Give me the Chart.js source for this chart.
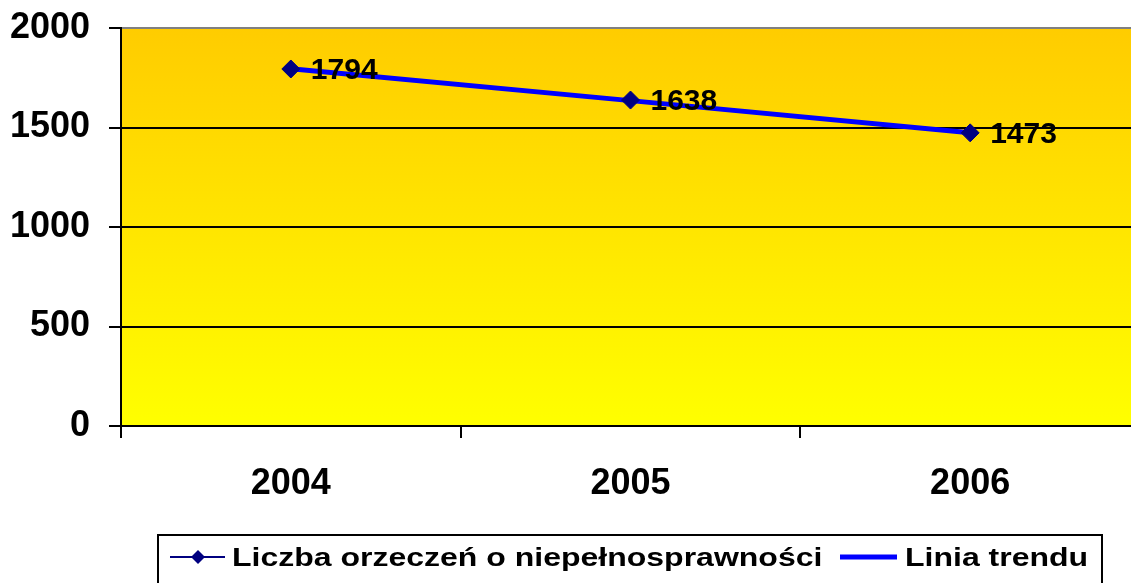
<!DOCTYPE html>
<html>
<head>
<meta charset="utf-8">
<script src="https://cdn.jsdelivr.net/npm/chart.js@4/dist/chart.umd.min.js"></script>
<style>
  body { margin: 0; background: #fff; overflow: hidden; }
  #wrap { width: 1150px; height: 583px; }
</style>
</head>
<body>
<div id="wrap"><canvas id="myChart" width="1150" height="583"></canvas></div>
<script>
// data
var years = ['2004', '2005', '2006'];
var orzeczenia = [1794, 1638, 1473];
var trend = [1795, 1635, 1474];
var seriesName = 'Liczba orzeczeń o niepełnosprawności';
var trendName = 'Linia trendu';

var FONT = '"Liberation Sans", Arial, sans-serif';

// gradient behind the plot area
const bgPlugin = {
    id: 'bgPlugin',
    beforeDraw(chart) {
        const a = chart.chartArea;
        const ctx = chart.ctx;
        const g = ctx.createLinearGradient(0, a.top, 0, a.bottom);
        g.addColorStop(0, '#FFCC00');
        g.addColorStop(1, '#FFFF00');
        ctx.save();
        ctx.fillStyle = g;
        ctx.fillRect(a.left, a.top, a.right - a.left, a.bottom - a.top);
        ctx.restore();
    }
};

// value labels right of the points
const labelPlugin = {
    id: 'labelPlugin',
    afterDatasetsDraw(chart) {
        const ctx = chart.ctx;
        const meta = chart.getDatasetMeta(0);
        ctx.save();
        ctx.font = 'bold 30px ' + FONT;
        ctx.fillStyle = '#000';
        ctx.textAlign = 'left';
        ctx.textBaseline = 'middle';
        meta.data.forEach(function (pt, i) {
            ctx.fillText(String(orzeczenia[i]), pt.x + 20, pt.y + 2);
        });
        ctx.restore();
    }
};

function diamond(ctx, x, y, r) {
    ctx.beginPath();
    ctx.moveTo(x, y - r);
    ctx.lineTo(x + r, y);
    ctx.lineTo(x, y + r);
    ctx.lineTo(x - r, y);
    ctx.closePath();
    ctx.fill();
}

// legend box at the bottom (stretched text like the original)
const legendPlugin = {
    id: 'legendPlugin',
    afterDraw(chart) {
        const ctx = chart.ctx;
        ctx.save();
        ctx.strokeStyle = '#000';
        ctx.lineWidth = 2;
        ctx.strokeRect(158, 535, 944, 70);

        const y = 557;
        ctx.strokeStyle = '#000080';
        ctx.lineWidth = 2;
        ctx.beginPath();
        ctx.moveTo(170, y);
        ctx.lineTo(225, y);
        ctx.stroke();
        ctx.fillStyle = '#000080';
        diamond(ctx, 198, y, 7);

        ctx.strokeStyle = '#0000FF';
        ctx.lineWidth = 5;
        ctx.beginPath();
        ctx.moveTo(840, y);
        ctx.lineTo(897, y);
        ctx.stroke();

        ctx.fillStyle = '#000';
        ctx.font = 'bold 25px ' + FONT;
        ctx.textBaseline = 'alphabetic';
        [[seriesName, 232], [trendName, 905]].forEach(function (it) {
            ctx.save();
            ctx.translate(it[1], 566);
            ctx.scale(1.28, 1);
            ctx.fillText(it[0], 0, 0);
            ctx.restore();
        });
        ctx.restore();
    }
};

const ctx = document.getElementById('myChart').getContext('2d');
var myChart = new Chart(ctx, {
    type: 'line',
    data: {
        labels: years,
        datasets: [
            {
                label: seriesName,
                data: orzeczenia,
                borderColor: '#000080',
                borderWidth: 2,
                pointRadius: 0,
                tension: 0,
                order: 3
            },
            {
                label: trendName,
                data: trend,
                borderColor: '#0000FF',
                borderWidth: 5,
                pointRadius: 0,
                tension: 0,
                order: 2
            },
            {
                // markers drawn on top of the trend line
                label: seriesName,
                data: orzeczenia,
                showLine: false,
                pointStyle: 'rectRot',
                pointRadius: 9,
                pointBackgroundColor: '#000080',
                pointBorderColor: '#000080',
                pointBorderWidth: 1,
                order: 1
            }
        ]
    },
    options: {
        responsive: false,
        animation: false,
        layout: { padding: { top: 28, right: 6, left: 0, bottom: 0 } },
        plugins: {
            legend: { display: false },
            tooltip: { enabled: false }
        },
        scales: {
            x: {
                offset: true,
                grid: {
                    offset: true,
                    drawOnChartArea: false,
                    drawTicks: true,
                    tickLength: 12,
                    color: '#000',
                    lineWidth: 2
                },
                border: { color: '#000', width: 2 },
                ticks: {
                    color: '#000',
                    padding: 24,
                    font: { family: FONT, size: 36, weight: 'bold' }
                },
                afterFit(scale) {
                    scale.height = 157;
                    scale.paddingLeft = 0;
                    scale.paddingRight = 0;
                }
            },
            y: {
                min: 0,
                max: 2000,
                ticks: {
                    stepSize: 500,
                    color: '#000',
                    padding: 19,
                    font: { family: FONT, size: 36, weight: 'bold' },
                    callback: function (v) { return String(v); }
                },
                grid: {
                    color: function (c) { return c.tick && c.tick.value === 2000 ? '#808080' : '#000'; },
                    lineWidth: 2,
                    tickLength: 12,
                    tickColor: '#000'
                },
                border: { color: '#000', width: 2 },
                afterFit(scale) {
                    scale.width = 121;
                    scale.paddingTop = 0;
                    scale.paddingBottom = 0;
                }
            }
        }
    },
    plugins: [bgPlugin, labelPlugin, legendPlugin]
});
</script>
</body>
</html>
